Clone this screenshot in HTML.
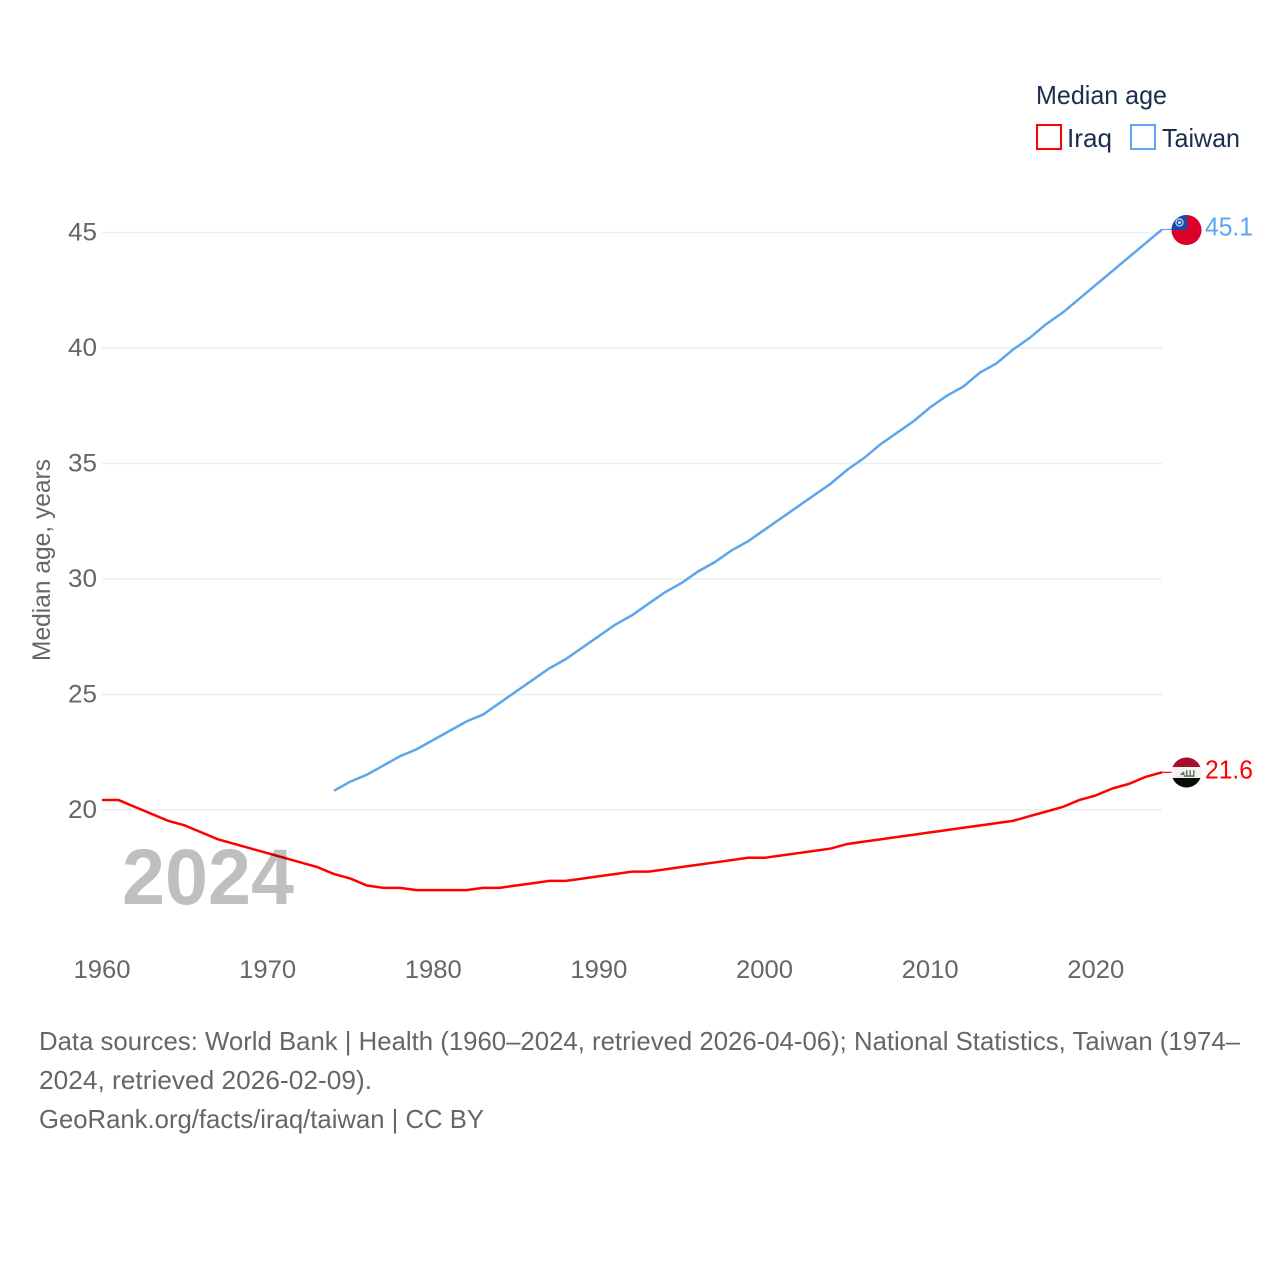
<!DOCTYPE html>
<html>
<head>
<meta charset="utf-8">
<title>Median age: Iraq and Taiwan</title>
<style>
html,body{margin:0;padding:0;background:#fff;width:1280px;height:1280px;overflow:hidden}
svg{display:block;font-family:"Liberation Sans",sans-serif}
</style>
</head>
<body>
<svg id="chart" xmlns="http://www.w3.org/2000/svg" width="1280" height="1280" viewBox="0 0 1280 1280">
  <defs>
    <clipPath id="flag-clip-taiwan"><circle cx="1186.5" cy="230" r="15"/></clipPath>
    <clipPath id="flag-clip-iraq"><circle cx="1186.5" cy="772.5" r="15"/></clipPath>
  </defs>
  <g id="grid"></g>
  <g id="y-ticks"></g>
  <g id="x-ticks"></g>
  <text transform="translate(50,661) rotate(-90)" font-size="25" fill="#666" textLength="202" lengthAdjust="spacingAndGlyphs">Median age, years</text>
  <g id="series"></g>
  <text x="122" y="904" font-size="79" font-weight="bold" fill="#000" fill-opacity="0.25" textLength="172" lengthAdjust="spacingAndGlyphs">2024</text>

  <g>
    <text x="1036" y="104" font-size="26" fill="#1a2e4f" textLength="131" lengthAdjust="spacingAndGlyphs">Median age</text>
    <g>
      <rect x="1037" y="125" width="24" height="24" fill="#fff" stroke="#ff0000" stroke-width="2"/>
      <text x="1067" y="147" font-size="26" fill="#1a2e4f" textLength="45" lengthAdjust="spacingAndGlyphs">Iraq</text>
    </g>
    <g>
      <rect x="1131" y="125" width="24" height="24" fill="#fff" stroke="#5da5ec" stroke-width="2"/>
      <text x="1162" y="147" font-size="26" fill="#1a2e4f" textLength="78" lengthAdjust="spacingAndGlyphs">Taiwan</text>
    </g>
  </g>

  <g clip-path="url(#flag-clip-taiwan)">
    <rect x="1171" y="215" width="31" height="30" fill="#d9002b"/>
    <rect x="1171" y="215" width="16" height="15" fill="#0f4fb0"/>
    <circle cx="1179.5" cy="222.5" r="3.6" fill="none" stroke="#dfe8f5" stroke-width="1.1"/>
    <circle cx="1179.5" cy="222.5" r="1.4" fill="#fff"/>
  </g>
  <g clip-path="url(#flag-clip-iraq)">
    <rect x="1171" y="757" width="31" height="11" fill="#a50f2a"/>
    <rect x="1171" y="767" width="31" height="11" fill="#f2f2f2"/>
    <rect x="1171" y="778" width="31" height="11" fill="#0a0a0a"/>
    <path d="M1177 777h7v-1.800l-4 -.4l3 -3.300l1.500 .8v3h1.500v-5h1.500v5h2v-5h1.500v5h2v-5h1.500v6.600h-17.500z" fill="#5d7d56"/>
  </g>
  <text x="1205" y="235.500" font-size="26" fill="#5da5ec" textLength="48" lengthAdjust="spacingAndGlyphs">45.1</text>
  <text x="1205" y="778.500" font-size="26" fill="#ff0000" textLength="48" lengthAdjust="spacingAndGlyphs">21.6</text>

  <g font-size="26" fill="#666">
    <text x="39" y="1050" textLength="1201" lengthAdjust="spacingAndGlyphs">Data sources: World Bank | Health (1960–2024, retrieved 2026-04-06); National Statistics, Taiwan (1974–</text>
    <text x="39" y="1089" textLength="333" lengthAdjust="spacingAndGlyphs">2024, retrieved 2026-02-09).</text>
    <text x="39" y="1128" textLength="445" lengthAdjust="spacingAndGlyphs">GeoRank.org/facts/iraq/taiwan | CC BY</text>
  </g>
</svg>
<script>
const yTickValues = [20, 25, 30, 35, 40, 45];
const xTickYears = [1960, 1970, 1980, 1990, 2000, 2010, 2020];
const iraqStartYear = 1960;
const iraqValues = [20.4,20.4,20.1,19.8,19.5,19.3,19.0,18.7,18.5,18.3,18.1,17.9,17.7,17.5,17.2,17.0,16.7,16.6,16.6,16.5,16.5,16.5,16.5,16.6,16.6,16.7,16.8,16.9,16.9,17.0,17.1,17.2,17.3,17.3,17.4,17.5,17.6,17.7,17.8,17.9,17.9,18.0,18.1,18.2,18.3,18.5,18.6,18.7,18.8,18.9,19.0,19.1,19.2,19.3,19.4,19.5,19.7,19.9,20.1,20.4,20.6,20.9,21.1,21.4,21.6];
const taiwanStartYear = 1974;
const taiwanValues = [20.8,21.2,21.5,21.9,22.3,22.6,23.0,23.4,23.8,24.1,24.6,25.1,25.6,26.1,26.5,27.0,27.5,28.0,28.4,28.9,29.4,29.8,30.3,30.7,31.2,31.6,32.1,32.6,33.1,33.6,34.1,34.7,35.2,35.8,36.3,36.8,37.4,37.9,38.3,38.9,39.3,39.9,40.4,41.0,41.5,42.1,42.7,43.3,43.9,44.5,45.1];

const NS = 'http://www.w3.org/2000/svg';
const xPos = function (year) { return 102 + (year - 1960) * (1162 - 102) / 64; };
const yPos = function (v) { return 810 - (v - 20) * (810 - 232.5) / 25; };
const lineLift = 0.7;

const grid = document.getElementById('grid');
const yTicks = document.getElementById('y-ticks');
const xTicks = document.getElementById('x-ticks');
const seriesGroup = document.getElementById('series');

yTickValues.forEach(function (v) {
  const line = document.createElementNS(NS, 'line');
  
  
  line.setAttribute('x1', 102);
  line.setAttribute('x2', 1162);
  line.setAttribute('y1', yPos(v));
  line.setAttribute('y2', yPos(v));
  line.setAttribute('stroke', '#eeeeee');
  line.setAttribute('stroke-width', '1.5');
  grid.appendChild(line);

  const label = document.createElementNS(NS, 'text');
  
  
  label.setAttribute('x', 68);
  label.setAttribute('y', yPos(v) + 8);
  label.setAttribute('font-size', '25');
  label.setAttribute('fill', '#666');
  label.setAttribute('textLength', '29');
  label.setAttribute('lengthAdjust', 'spacingAndGlyphs');
  label.textContent = String(v);
  yTicks.appendChild(label);
});

xTickYears.forEach(function (year) {
  const label = document.createElementNS(NS, 'text');
  
  
  label.setAttribute('x', xPos(year) - 28.5);
  label.setAttribute('y', 978);
  label.setAttribute('font-size', '25');
  label.setAttribute('fill', '#666');
  label.setAttribute('textLength', '57');
  label.setAttribute('lengthAdjust', 'spacingAndGlyphs');
  label.textContent = String(year);
  xTicks.appendChild(label);
});

function linePoints(startYear, values) {
  return values.map(function (v, i) {
    return xPos(startYear + i).toFixed(2) + ',' + (yPos(v) - lineLift).toFixed(2);
  }).join(' ');
}

const iraqLine = document.createElementNS(NS, 'polyline');


iraqLine.setAttribute('points', linePoints(iraqStartYear, iraqValues));
iraqLine.setAttribute('fill', 'none');
iraqLine.setAttribute('stroke', '#ff0000');
iraqLine.setAttribute('stroke-width', '2.5');
seriesGroup.appendChild(iraqLine);

const iraqConnector = document.createElementNS(NS, 'line');


iraqConnector.setAttribute('x1', xPos(iraqStartYear + iraqValues.length - 1));
iraqConnector.setAttribute('x2', 1172);
iraqConnector.setAttribute('y1', yPos(iraqValues[iraqValues.length - 1]) - lineLift);
iraqConnector.setAttribute('y2', yPos(iraqValues[iraqValues.length - 1]) - lineLift);
iraqConnector.setAttribute('stroke', '#ff0000');
iraqConnector.setAttribute('stroke-width', '1.2');
seriesGroup.appendChild(iraqConnector);

const taiwanLine = document.createElementNS(NS, 'polyline');


taiwanLine.setAttribute('points', linePoints(taiwanStartYear, taiwanValues));
taiwanLine.setAttribute('fill', 'none');
taiwanLine.setAttribute('stroke', '#5da5ec');
taiwanLine.setAttribute('stroke-width', '2.5');
seriesGroup.appendChild(taiwanLine);

const taiwanConnector = document.createElementNS(NS, 'line');


taiwanConnector.setAttribute('x1', xPos(taiwanStartYear + taiwanValues.length - 1));
taiwanConnector.setAttribute('x2', 1172);
taiwanConnector.setAttribute('y1', yPos(taiwanValues[taiwanValues.length - 1]) - lineLift);
taiwanConnector.setAttribute('y2', yPos(taiwanValues[taiwanValues.length - 1]) - lineLift);
taiwanConnector.setAttribute('stroke', '#5da5ec');
taiwanConnector.setAttribute('stroke-width', '1.2');
seriesGroup.appendChild(taiwanConnector);
</script>
</body>
</html>
